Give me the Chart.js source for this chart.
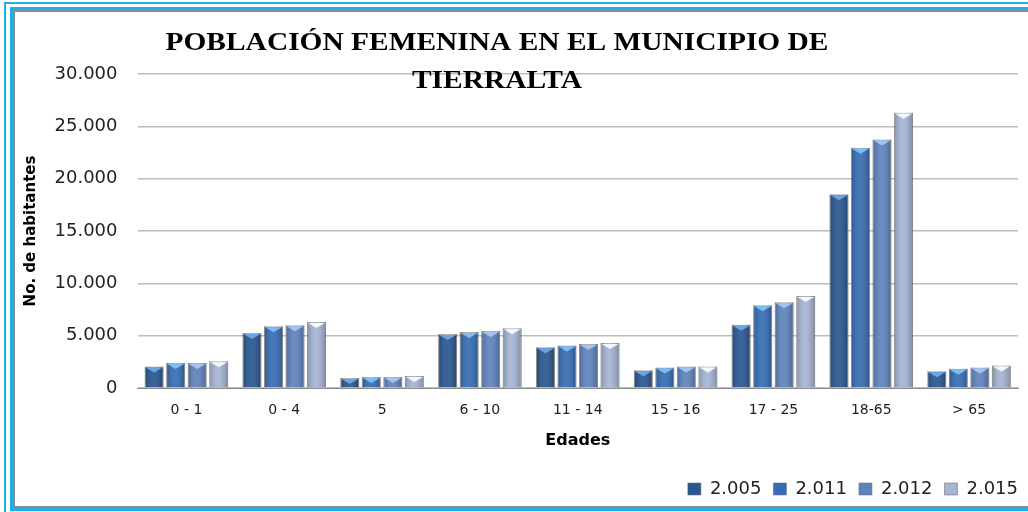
<!DOCTYPE html>
<html>
<head>
<meta charset="utf-8">
<script src="https://cdn.jsdelivr.net/npm/chart.js@4/dist/chart.umd.min.js"></script>
<style>
  html, body { margin: 0; padding: 0; background: #fff; }
  #wrap { position: relative; width: 1028px; height: 512px; overflow: hidden; }
  #chart { position: absolute; left: 0; top: 0; }
  .frame { position: absolute; right: -20px; }
  #f1 { left: 4px; top: 2px; bottom: -20px; border-left: 2px solid #1ab0e8; border-top: 2px solid #1ab0e8; }
  #f2 { left: 10px; top: 7px; bottom: 1px; border: 3px solid #1ab0e8; border-right: none; }
  #f3 { left: 13px; top: 10px; bottom: 4px; border: 2px solid #8a8a8a; border-right: none; }
</style>
</head>
<body>
<div id="wrap">
  <canvas id="chart" width="1028" height="512"></canvas>
  <div class="frame" id="f1"></div>
  <div class="frame" id="f2"></div>
  <div class="frame" id="f3"></div>
</div>
<script>
// data
const categories = ["0 - 1", "0 - 4", "5", "6 - 10", "11 - 14", "15 - 16", "17 - 25", "18-65", "> 65"];
const years = ["2.005", "2.011", "2.012", "2.015"];
const v2005 = [2050, 5250, 950, 5150, 3900, 1700, 6050, 18500, 1600];
const v2011 = [2400, 5900, 1050, 5350, 4050, 1950, 7900, 22950, 1850];
const v2012 = [2400, 6000, 1050, 5450, 4200, 2050, 8200, 23750, 1950];
const v2015 = [2550, 6300, 1150, 5700, 4300, 2050, 8800, 26300, 2150];
const titleLines = ["POBLACIÓN FEMENINA EN EL MUNICIPIO DE", "TIERRALTA"];

const colors = ["#285690", "#346db5", "#5d83bd", "#a6b5d5"];
const tops = ["#6aa6e6", "#7dbcf4", "#a3c3ee", "#f4f7fc"];

function dots(v) {
  return String(v).replace(/\B(?=(\d{3})+(?!\d))/g, ".");
}

// bevel look on each bar
const bevel = {
  id: "bevel",
  afterDatasetsDraw(chart) {
    const ctx = chart.ctx;
    chart.data.datasets.forEach((ds, i) => {
      chart.getDatasetMeta(i).data.forEach(el => {
        const p = el.getProps(["x", "y", "base", "width"], true);
        const l = p.x - p.width / 2, r = p.x + p.width / 2;
        const g = ctx.createLinearGradient(l, 0, r, 0);
        g.addColorStop(0, "rgba(0,0,0,0.22)");
        g.addColorStop(0.45, "rgba(255,255,255,0.08)");
        g.addColorStop(1, "rgba(0,0,0,0.25)");
        ctx.save();
        ctx.fillStyle = g;
        ctx.fillRect(l, p.y, p.width, p.base - p.y);
        ctx.fillStyle = tops[i];
        ctx.beginPath();
        ctx.moveTo(l + 1, p.y + 1);
        ctx.lineTo(r - 1, p.y + 1);
        ctx.lineTo(p.x, p.y + 6);
        ctx.closePath();
        ctx.fill();
        ctx.restore();
      });
    });
  }
};

// two-line title laid over the top of the plot
const titleText = {
  id: "titleText",
  afterLayout(chart) {
    // legend sits a bit further right than the plot edge
    chart.legend.left += 12;
    chart.legend.right += 12;
  },
  afterDraw(chart) {
    const ctx = chart.ctx;
    ctx.save();
    ctx.fillStyle = "#000";
    ctx.font = "bold 25px 'Liberation Serif'";
    ctx.textAlign = "center";
    ctx.textBaseline = "alphabetic";
    const w = ctx.measureText(titleLines[0]).width;
    const sx = 663 / w;
    ctx.translate(497, 0);
    ctx.scale(sx, 1);
    ctx.fillText(titleLines[0], 0, 50);
    ctx.fillText(titleLines[1], 0, 88);
    ctx.restore();
  }
};

const datasets = [v2005, v2011, v2012, v2015].map((d, i) => ({
  label: years[i],
  data: d,
  backgroundColor: colors[i],
  borderColor: "rgba(110,110,110,0.55)",
  borderWidth: 1,
  barPercentage: 0.88,
  categoryPercentage: 0.88
}));

new Chart(document.getElementById("chart"), {
  type: "bar",
  data: { labels: categories, datasets: datasets },
  plugins: [bevel, titleText],
  options: {
    responsive: false,
    animation: false,
    layout: { padding: { left: 22, right: 10, top: 74, bottom: 4 } },
    plugins: {
      tooltip: { enabled: false },
      title: { display: false },
      legend: {
        position: "bottom",
        align: "end",
        labels: {
          boxWidth: 13,
          boxHeight: 12,
          padding: 12,
          color: "#222",
          font: { family: "DejaVu Sans", size: 18 }
        }
      }
    },
    scales: {
      x: {
        grid: { display: false },
        border: { display: true, color: "#8c8c8c", width: 1 },
        ticks: { color: "#222", padding: 6, font: { family: "DejaVu Sans", size: 14 } },
        title: {
          display: true,
          text: "Edades",
          color: "#000",
          padding: { top: 0, bottom: 18 },
          font: { family: "DejaVu Sans", size: 16, weight: "bold" }
        },
        afterFit(scale) { scale.height = 80; }
      },
      y: {
        min: 0,
        max: 30000,
        grid: { color: "#bdbdbd", lineWidth: 1.5, drawTicks: false },
        border: { display: false },
        ticks: {
          stepSize: 5000,
          padding: 20,
          color: "#222",
          font: { family: "DejaVu Sans", size: 18 },
          callback: v => dots(v)
        },
        title: {
          display: true,
          text: "No. de habitantes",
          color: "#000",
          padding: 0,
          font: { family: "DejaVu Sans", size: 15, weight: "bold" }
        },
        afterFit(scale) { scale.width = 115.5; }
      }
    }
  }
});
</script>
</body>
</html>
